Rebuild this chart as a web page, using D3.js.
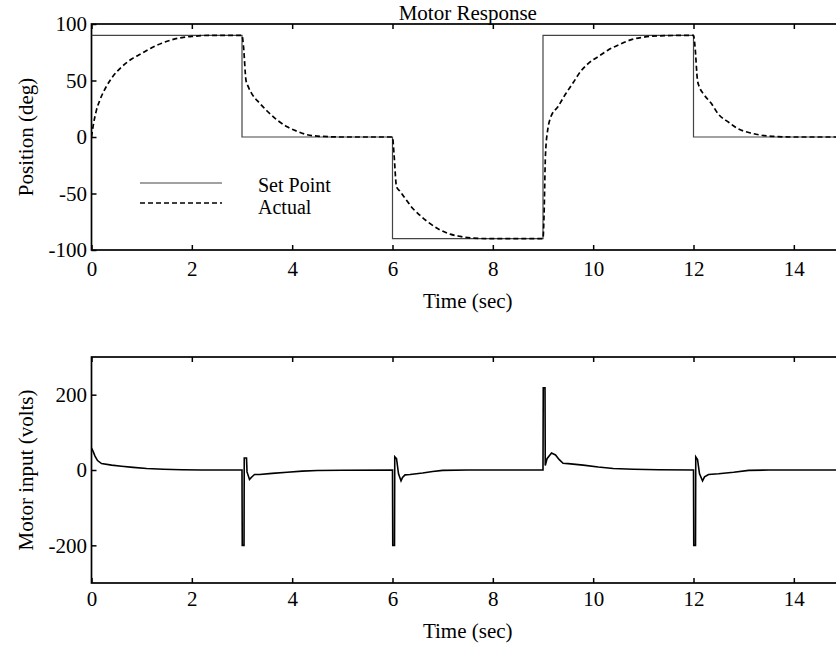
<!DOCTYPE html>
<html>
<head>
<meta charset="utf-8">
<script src="https://cdn.jsdelivr.net/npm/d3@7"></script>
<style>
  html, body { margin: 0; padding: 0; background: #fff; }
  svg { display: block; font-family: "Liberation Serif", "Times New Roman", serif; }
</style>
</head>
<body>
<svg id="chart" width="836" height="646"></svg>
<script>
// ---------- data ----------
const title = "Motor Response";
const xTicks = [0, 2, 4, 6, 8, 10, 12, 14];
const posTicks = [-100, -50, 0, 50, 100];
const voltTicks = [-200, 0, 200];

// set point (step function)
const setTime = [0, 3, 6, 9, 12, 15];
const setValue = [90, 0, -90, 90, 0, 0];

// actual position (deg)
const actTime = [0, 0.03, 0.1, 0.17, 0.3, 0.45, 0.6, 0.8, 1.0, 1.2, 1.4, 1.6, 1.8, 2.0, 2.4, 3.0,
  3.03, 3.08, 3.12, 3.2, 3.35, 3.5, 3.7, 3.9, 4.1, 4.3, 4.6, 5.0, 6.0,
  6.03, 6.08, 6.15, 6.28, 6.4, 6.54, 6.7, 6.94, 7.15, 7.35, 7.6, 8.0, 9.0,
  9.02, 9.05, 9.1, 9.15, 9.3, 9.45, 9.6, 9.75, 9.9, 10.13, 10.3, 10.53, 10.75, 10.95, 11.3, 12.0,
  12.03, 12.08, 12.12, 12.2, 12.35, 12.5, 12.7, 12.9, 13.1, 13.3, 13.6, 14.0, 15.0];
const actValue = [0, 9, 24, 33, 45, 55, 62, 69, 74, 79, 83, 86, 88, 89, 90, 90,
  80, 50, 45, 38, 30, 23, 15, 9, 5, 2, 0.5, 0, 0,
  -15, -44, -48, -56, -63, -69, -75, -82, -86, -88, -89.5, -90, -90,
  -70, -15, 8, 17, 27, 38, 48, 58, 65, 72, 77, 82, 86, 88, 89.5, 90,
  80, 50, 44, 38, 30, 20, 13, 7, 4, 2, 0.5, 0, 0];

// motor input (volts)
const voltTime = [0, 0.03, 0.07, 0.12, 0.2, 0.4, 0.6, 0.83, 1.1, 1.43, 1.8, 2.2, 3.0,
  3.005, 3.04, 3.045, 3.09, 3.1, 3.15, 3.2, 3.25, 3.35, 3.6, 3.9, 4.2, 4.5, 5.0, 6.0,
  6.005, 6.04, 6.045, 6.08, 6.12, 6.17, 6.2, 6.25, 6.35, 6.6, 6.8, 7.0, 7.5, 9.0,
  9.005, 9.04, 9.045, 9.08, 9.17, 9.25, 9.32, 9.4, 9.5, 9.8, 10.1, 10.4, 10.8, 11.3, 12.0,
  12.005, 12.04, 12.045, 12.08, 12.12, 12.18, 12.22, 12.3, 12.5, 12.8, 13.1, 13.5, 15.0];
const voltValue = [58, 50, 37, 25, 17, 13, 10, 7, 4, 2, 0.5, 0, 0,
  -200, -200, 32, 32, -5, -25, -18, -12, -12, -9, -6, -3, -1.5, -0.5, 0,
  -200, -200, 35, 30, -10, -29, -20, -13, -12, -8, -4, -1, 0, 0,
  218, 218, 12, 30, 45, 40, 28, 18, 17, 13, 8, 4, 2, 0.5, 0,
  -200, -200, 35, 28, -10, -29, -18, -12, -10, -6, -1, 0, 0];

// ---------- layout ----------
const svg = d3.select("#chart");
const FONT = 21;
const left = 91.5, right = 844;
const x = d3.scaleLinear().domain([0, 15]).range([left, right]);

const yPos = d3.scaleLinear().domain([-100, 100]).range([250, 24]);
const yVolt = d3.scaleLinear().domain([-300, 300]).range([583, 357]);
const fmt = d => String(d);

function panel(y, yTickVals, xPad, yLabel, yLabelCenter, xLabelY) {
  const g = svg.append("g");
  const [y0, y1] = y.range();
  const bx = g.append("g").attr("transform", `translate(0,${y0})`)
    .call(d3.axisBottom(x).tickValues(xTicks).tickSize(-5).tickPadding(xPad).tickFormat(fmt));
  const tx = g.append("g").attr("transform", `translate(0,${y1})`)
    .call(d3.axisTop(x).tickValues(xTicks).tickSize(-5).tickFormat(""));
  const ly = g.append("g").attr("transform", `translate(${left},0)`)
    .call(d3.axisLeft(y).tickValues(yTickVals).tickSize(-5).tickPadding(4.5).tickFormat(fmt));
  const ry = g.append("g").attr("transform", `translate(${right},0)`)
    .call(d3.axisRight(y).tickValues(yTickVals).tickSize(-5).tickFormat(""));
  [bx, tx, ly, ry].forEach(a => {
    a.select(".domain").remove();
    a.selectAll("line").attr("stroke", "#000").attr("stroke-width", 1.5);
    a.selectAll("text").attr("font-size", FONT).attr("font-family", "Liberation Serif").attr("fill", "#000");
  });
  g.append("rect")
    .attr("x", left).attr("y", y1).attr("width", right - left).attr("height", y0 - y1)
    .attr("fill", "none").attr("stroke", "#000").attr("stroke-width", 1.7);
  g.append("text")
    .attr("transform", `translate(33,${yLabelCenter}) rotate(-90)`)
    .attr("text-anchor", "middle").attr("font-size", FONT).text(yLabel);
  g.append("text")
    .attr("x", (left + right) / 2).attr("y", xLabelY)
    .attr("text-anchor", "middle").attr("font-size", FONT).text("Time (sec)");
  return g;
}

const topPanel = panel(yPos, posTicks, 11, "Position (deg)", 137, 308);
const botPanel = panel(yVolt, voltTicks, 8.5, "Motor input (volts)", 470, 638);

svg.append("text").attr("x", (left + right) / 2).attr("y", 20)
  .attr("text-anchor", "middle").attr("font-size", FONT).text(title);

svg.append("clipPath").attr("id", "clipTop").append("rect")
  .attr("x", left).attr("y", 24).attr("width", right - left).attr("height", 226);
svg.append("clipPath").attr("id", "clipBot").append("rect")
  .attr("x", left).attr("y", 357).attr("width", right - left).attr("height", 226);

const setData = setTime.map((t, i) => [t, setValue[i]]);
svg.append("path").datum(setData)
  .attr("clip-path", "url(#clipTop)")
  .attr("fill", "none").attr("stroke", "#444").attr("stroke-width", 1.2)
  .attr("d", d3.line().x(d => x(d[0])).y(d => yPos(d[1])).curve(d3.curveStepAfter));

const actData = actTime.map((t, i) => [t, actValue[i]]);
svg.append("path").datum(actData)
  .attr("clip-path", "url(#clipTop)")
  .attr("fill", "none").attr("stroke", "#000").attr("stroke-width", 1.7)
  .attr("stroke-dasharray", "5,3")
  .attr("d", d3.line().x(d => x(d[0])).y(d => yPos(d[1])).curve(d3.curveMonotoneX));

const voltData = voltTime.map((t, i) => [t, voltValue[i]]);
svg.append("path").datum(voltData)
  .attr("clip-path", "url(#clipBot)")
  .attr("fill", "none").attr("stroke", "#000").attr("stroke-width", 1.6)
  .attr("d", d3.line().x(d => x(d[0])).y(d => yVolt(d[1])));

// legend
const leg = svg.append("g");
leg.append("line").attr("x1", 140).attr("x2", 222).attr("y1", 183).attr("y2", 183)
  .attr("stroke", "#444").attr("stroke-width", 1.2);
leg.append("line").attr("x1", 140).attr("x2", 222).attr("y1", 203).attr("y2", 203)
  .attr("stroke", "#000").attr("stroke-width", 1.7).attr("stroke-dasharray", "5,3");
leg.append("text").attr("x", 258).attr("y", 192).attr("font-size", 20).text("Set Point");
leg.append("text").attr("x", 258).attr("y", 214).attr("font-size", 20).text("Actual");
</script>
</body>
</html>
